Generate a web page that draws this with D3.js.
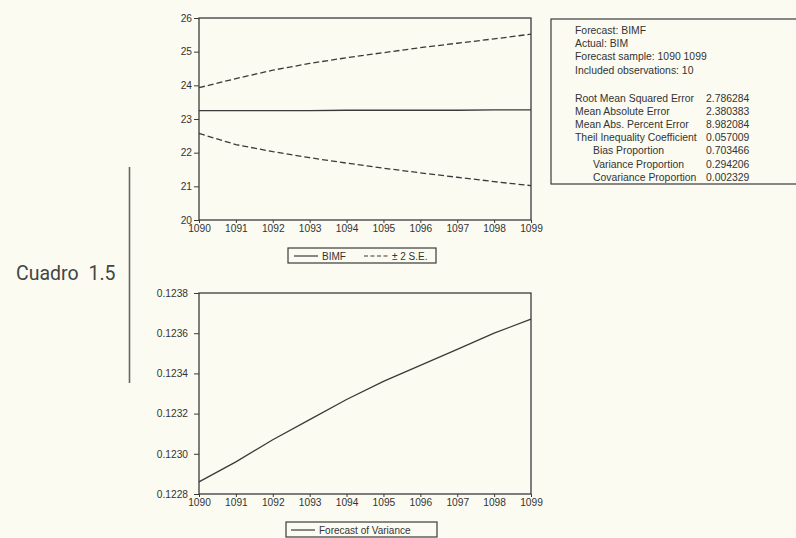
<!DOCTYPE html>
<html>
<head>
<meta charset="utf-8">
<script src="https://cdn.jsdelivr.net/npm/d3@7"></script>
<style>
  body { margin: 0; background: #fbfbf1; }
  svg { display: block; }
  text { font-family: "Liberation Sans", Arial, sans-serif; fill: #333; }
</style>
</head>
<body>
<svg id="chart"></svg>
<script>
// forecast periods
var years = [1090, 1091, 1092, 1093, 1094, 1095, 1096, 1097, 1098, 1099];
// BIMF forecast and +/- 2 S.E. band
var bimf  = [23.25, 23.25, 23.25, 23.25, 23.26, 23.26, 23.26, 23.26, 23.27, 23.27];
var upper = [23.93, 24.20, 24.45, 24.65, 24.82, 24.97, 25.12, 25.25, 25.38, 25.52];
var lower = [22.57, 22.24, 22.03, 21.85, 21.69, 21.54, 21.40, 21.27, 21.14, 21.02];
// forecast of variance
var variance = [0.12286, 0.12296, 0.12307, 0.12317, 0.12327, 0.12336, 0.12344, 0.12352, 0.12360, 0.12367];

var topTicks = [20, 21, 22, 23, 24, 25, 26];
var botTicks = [0.1228, 0.1230, 0.1232, 0.1234, 0.1236, 0.1238];

var infoLines = ["Forecast: BIMF", "Actual: BIM", "Forecast sample: 1090 1099", "Included observations: 10"];
var statNames = ["Root Mean Squared Error", "Mean Absolute Error", "Mean Abs. Percent Error",
                 "Theil Inequality Coefficient", "Bias Proportion", "Variance Proportion", "Covariance Proportion"];
var statValues = ["2.786284", "2.380383", "8.982084", "0.057009", "0.703466", "0.294206", "0.002329"];
var statIndent = [0, 0, 0, 0, 1, 1, 1];

var W = 796, H = 538;
var svg = d3.select("#chart").attr("width", W).attr("height", H);

var ink = "#3a3a3a";

var x = d3.scaleLinear().domain([1090, 1099]).range([199, 531]);

function drawPanel(yScale, ticks, fmt, pad, series)
{
  var g = svg.append("g");
  var y0 = yScale.range()[0], y1 = yScale.range()[1];

  var xAxis = d3.axisBottom(x).tickValues(years).tickFormat(d3.format("d"))
                .tickSize(3).tickPadding(2);
  g.append("g").attr("transform", "translate(0," + y0 + ")").call(xAxis);

  var yAxis = d3.axisLeft(yScale).tickValues(ticks).tickFormat(fmt)
                .tickSize(5).tickPadding(pad);
  g.append("g").attr("transform", "translate(" + x.range()[0] + ",0)").call(yAxis);

  g.selectAll(".domain").remove();
  g.selectAll(".tick line").attr("stroke", ink);
  g.selectAll(".tick text").style("font-size", "10.2px").style("fill", "#333");

  g.append("rect")
   .attr("x", x.range()[0]).attr("y", y1)
   .attr("width", x.range()[1] - x.range()[0]).attr("height", y0 - y1)
   .attr("fill", "none").attr("stroke", ink).attr("stroke-width", 1.3);

  series.forEach(function(s)
  {
    var line = d3.line()
                 .x(function(d, i){ return x(years[i]); })
                 .y(function(d){ return yScale(d); });
    g.append("path")
     .datum(s.values)
     .attr("d", line)
     .attr("fill", "none")
     .attr("stroke", ink)
     .attr("stroke-width", 1.3)
     .attr("stroke-dasharray", s.dash ? "6,3" : null);
  });
}

var yTop = d3.scaleLinear().domain([20, 26]).range([220, 18]);
drawPanel(yTop, topTicks, d3.format("d"), 2, [
  {values: bimf, dash: false},
  {values: upper, dash: true},
  {values: lower, dash: true}
]);

var yBot = d3.scaleLinear().domain([0.1228, 0.1238]).range([494, 293]);
drawPanel(yBot, botTicks, d3.format(".4f"), 6, [
  {values: variance, dash: false}
]);

// legends
function legend(xl, yl, w, items)
{
  var g = svg.append("g").attr("transform", "translate(" + xl + "," + yl + ")");
  g.append("rect").attr("width", w).attr("height", 15)
   .attr("fill", "none").attr("stroke", ink).attr("stroke-width", 1.2);
  items.forEach(function(it)
  {
    g.append("line").attr("x1", it.x).attr("x2", it.x + 24)
     .attr("y1", 8).attr("y2", 8)
     .attr("stroke", ink).attr("stroke-width", 1.2)
     .attr("stroke-dasharray", it.dash ? "4,2.5" : null);
    g.append("text").attr("x", it.x + 28).attr("y", 11.5)
     .style("font-size", "10px").text(it.label);
  });
}
legend(288, 248, 148, [
  {x: 6, label: "BIMF", dash: false},
  {x: 76, label: "\u00b1 2 S.E.", dash: true}
]);
legend(286, 522, 151, [
  {x: 5, label: "Forecast of Variance", dash: false}
]);

// statistics box
var box = svg.append("g").attr("transform", "translate(551,19)");
box.append("rect").attr("width", 260).attr("height", 165)
   .attr("fill", "none").attr("stroke", ink).attr("stroke-width", 1.2);
box.selectAll("text.info").data(infoLines).enter().append("text")
   .attr("class", "info")
   .attr("x", 24).attr("y", function(d, i){ return 15 + i * 13.2; })
   .style("font-size", "10.4px").text(function(d){ return d; });
box.selectAll("text.sname").data(statNames).enter().append("text")
   .attr("class", "sname")
   .attr("x", function(d, i){ return statIndent[i] ? 42 : 24; })
   .attr("y", function(d, i){ return 83 + i * 13.1; })
   .style("font-size", "10.4px").text(function(d){ return d; });
box.selectAll("text.sval").data(statValues).enter().append("text")
   .attr("class", "sval")
   .attr("x", 155)
   .attr("y", function(d, i){ return 83 + i * 13.1; })
   .style("font-size", "10.4px").text(function(d){ return d; });

// side caption and rule
svg.append("text").attr("x", 16).attr("y", 280)
   .style("font-family", "Roboto, sans-serif").style("font-size", "19.5px")
   .style("fill", "#444").style("word-spacing", "5px")
   .text("Cuadro 1.5");
svg.append("line").attr("x1", 129.5).attr("x2", 129.5).attr("y1", 167).attr("y2", 383)
   .attr("stroke", "#666").attr("stroke-width", 1.6);
</script>
</body>
</html>
